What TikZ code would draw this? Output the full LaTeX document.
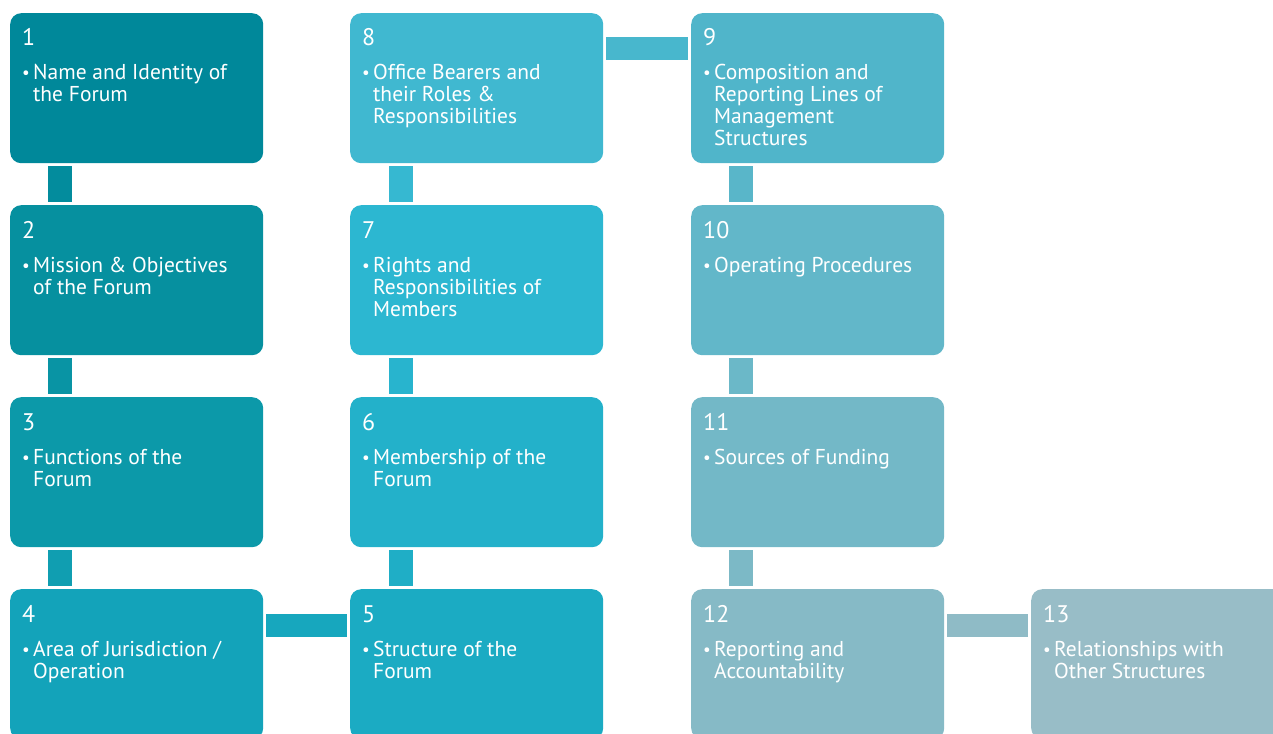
\documentclass[tikz,border=0pt]{standalone}
\usepackage{fontspec}
\setmainfont{PT Sans}
\usetikzlibrary{calc}
\definecolor{c1}{HTML}{00889A}
\definecolor{c2}{HTML}{06909F}
\definecolor{c3}{HTML}{0C99A9}
\definecolor{c4}{HTML}{13A3BA}
\definecolor{c5}{HTML}{1BABC3}
\definecolor{c6}{HTML}{23B1CA}
\definecolor{c7}{HTML}{2CB7D1}
\definecolor{c8}{HTML}{40B8D0}
\definecolor{c9}{HTML}{50B5CA}
\definecolor{c10}{HTML}{62B7C9}
\definecolor{c11}{HTML}{73B8C7}
\definecolor{c12}{HTML}{86BAC6}
\definecolor{c13}{HTML}{98BDC7}
\begin{document}
\begin{tikzpicture}[x=1pt,y=-1pt,
  box/.style={fill=#1, rounded corners=11pt, minimum width=253pt, minimum height=150pt, inner sep=0pt, anchor=north west},
  numtxt/.style={text=white, inner sep=0pt, anchor=base west, font=\fontsize{24}{26}\selectfont},
  bultxt/.style={text=white, inner sep=0pt, anchor=base west, font=\fontsize{21.5}{22}\selectfont},
  dottxt/.style={text=white, inner sep=0pt, anchor=base west, font=\fontsize{17}{22}\selectfont},
]
\useasboundingbox (0,0) rectangle (1273,733);
\clip (0,0) rectangle (1273,733);
% boxes
\node[box=c1] (b1) at (10,13) {};
\node[box=c2] (b2) at (10,205) {};
\node[box=c3] (b3) at (10,397) {};
\node[box=c4] (b4) at (10,589) {};
\node[box=c5] (b5) at (350,589) {};
\node[box=c6] (b6) at (350,397) {};
\node[box=c7] (b7) at (350,205) {};
\node[box=c8] (b8) at (350,13) {};
\node[box=c9] (b9) at (691,13) {};
\node[box=c10] (b10) at (691,205) {};
\node[box=c11] (b11) at (691,397) {};
\node[box=c12] (b12) at (691,589) {};
\node[box=c13] (b13) at (1031,589) {};
% connectors
\fill[c1!50!c2] ($(b1.south west)+(38,3)$) rectangle ($(b2.north west)+(62,-3)$);
\fill[c2!50!c3] ($(b2.south west)+(38,3)$) rectangle ($(b3.north west)+(62,-3)$);
\fill[c3!50!c4] ($(b3.south west)+(38,3)$) rectangle ($(b4.north west)+(62,-3)$);
\fill[c4!50!c5] ($(b4.north east)+(3,25)$) rectangle ($(b5.north west)+(-3,48)$);
\fill[c5!50!c6] ($(b6.south west)+(39,3)$) rectangle ($(b5.north west)+(63,-3)$);
\fill[c6!50!c7] ($(b7.south west)+(39,3)$) rectangle ($(b6.north west)+(63,-3)$);
\fill[c7!50!c8] ($(b8.south west)+(39,3)$) rectangle ($(b7.north west)+(63,-3)$);
\fill[c8!50!c9] ($(b8.north east)+(3,24)$) rectangle ($(b9.north west)+(-3,47)$);
\fill[c9!50!c10] ($(b9.south west)+(38,3)$) rectangle ($(b10.north west)+(62,-3)$);
\fill[c10!50!c11] ($(b10.south west)+(38,3)$) rectangle ($(b11.north west)+(62,-3)$);
\fill[c11!50!c12] ($(b11.south west)+(38,3)$) rectangle ($(b12.north west)+(62,-3)$);
\fill[c12!50!c13] ($(b12.north east)+(3,25)$) rectangle ($(b13.north west)+(-3,48)$);
% texts
\foreach \b/\n/\t in {
  b1/1/{Name and Identity of\\the Forum},
  b2/2/{Mission \& Objectives\\of the Forum},
  b3/3/{Functions of the\\Forum},
  b4/4/{Area of Jurisdiction /\\Operation},
  b5/5/{Structure of the\\Forum},
  b6/6/{Membership of the\\Forum},
  b7/7/{Rights and\\Responsibilities of\\Members},
  b8/8/{Office Bearers and\\their Roles \&\\Responsibilities},
  b9/9/{Composition and\\Reporting Lines of\\Management\\Structures},
  b10/10/{Operating Procedures},
  b11/11/{Sources of Funding},
  b12/12/{Reporting and\\Accountability},
  b13/13/{Relationships with\\Other Structures}} {
  \node[numtxt] (\b n) at ($(\b.north west)+(12,33)$) {\n};
  \node[dottxt] (\b d) at ($(\b.north west)+(12,66)$) {\textbullet};
  \node[bultxt] (\b t) at ($(\b.north west)+(23,67)$) {\parbox[t]{228pt}{\raggedright \t}};
}
\end{tikzpicture}
\end{document}
